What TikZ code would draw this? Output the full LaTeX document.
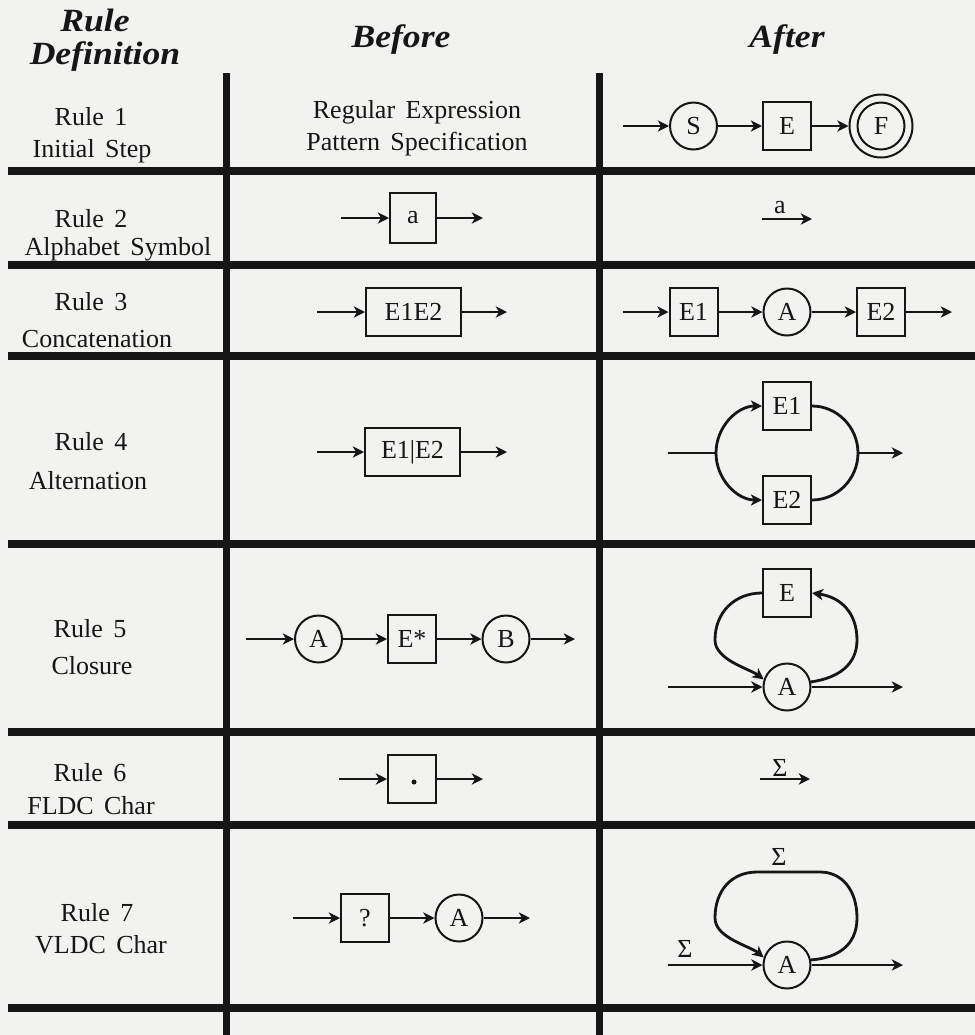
\documentclass[tikz,border=0pt]{standalone}
\usepackage{fontspec}
\setmainfont{Liberation Serif}[WordSpace=1.6]
\newfontfamily\headfont{Liberation Serif}[FakeStretch=1.1]
\usetikzlibrary{arrows.meta}
\definecolor{paper}{RGB}{242,242,241}
\definecolor{ink}{RGB}{22,22,22}

\begin{document}
\begin{tikzpicture}[x=0.5pt,y=-0.5pt,
  every node/.style={text=ink, font=\fontsize{13}{15}\selectfont},
  txt/.style={anchor=base, inner sep=0pt},
  head/.style={anchor=base, inner sep=0pt, font=\headfont\bfseries\itshape\fontsize{16.2}{18}\selectfont},
  state/.style={circle, draw=ink, line width=1pt, minimum size=23.5pt, inner sep=0pt},
  cell/.style={rectangle, draw=ink, line width=1pt, minimum width=24pt, minimum height=24pt, inner sep=0pt},
  widecell/.style={cell, minimum width=47.5pt},
  flow/.style={draw=ink, line width=1.4pt, -{Stealth[length=5.6pt,width=5.6pt,inset=1.6pt]}},
  plain/.style={draw=ink, line width=1.4pt},
  rulebar/.style={draw=ink, line width=4pt},
  colbar/.style={draw=ink, line width=3.5pt},
  edgelabel/.style={anchor=base, inner sep=0pt}
]
% page
\fill[paper] (0,0) rectangle (975,1035);
\useasboundingbox (0,0) rectangle (975,1035);

% table rules
\foreach \yy in {171,265,356,544,732,825,1008}
  \draw[rulebar] (8,\yy) -- (975,\yy);
\draw[colbar] (226,73) -- (226,1035);
\draw[colbar] (599,73) -- (599,1035);

% column heads
\node[head] (hRule) at (95,31) {Rule};
\node[head] (hDef) at (105,64) {Definition};
\node[head] (hBefore) at (401,47) {Before};
\node[head] (hAfter) at (787,47) {After};

% rule names
\node[txt] (l1a) at (91,125) {Rule 1};
\node[txt] (l1b) at (92,157) {Initial Step};
\node[txt] (l2a) at (91,227) {Rule 2};
\node[txt] (l2b) at (118,255) {Alphabet Symbol};
\node[txt] (l3a) at (91,310) {Rule 3};
\node[txt] (l3b) at (97,347) {Concatenation};
\node[txt] (l4a) at (91,450) {Rule 4};
\node[txt] (l4b) at (88,489) {Alternation};
\node[txt] (l5a) at (90,637) {Rule 5};
\node[txt] (l5b) at (92,674) {Closure};
\node[txt] (l6a) at (90,781) {Rule 6};
\node[txt] (l6b) at (91,814) {FLDC Char};
\node[txt] (l7a) at (97,921) {Rule 7};
\node[txt] (l7b) at (101,953) {VLDC Char};

% ---- Rule 1 ----
\node[txt] (r1b1) at (417,118) {Regular Expression};
\node[txt] (r1b2) at (417,150) {Pattern Specification};
\coordinate (r1in) at (623,126);
\node[state] (r1S) at (693.5,126) {S};
\node[cell] (r1E) at (787,126) {E};
\node[state] (r1F) at (881,126) {F};
\node[state, minimum size=31.5pt] (r1Fo) at (881,126) {};
\draw[flow] (r1in) -- (r1S);
\draw[flow] (r1S) -- (r1E);
\draw[flow] (r1E) -- (r1Fo);

% ---- Rule 2 ----
\coordinate (r2in) at (341,218);
\node[cell, minimum width=23pt, minimum height=25pt] (r2a) at (413,218) {a};
\coordinate (r2out) at (483,218);
\draw[flow] (r2in) -- (r2a);
\draw[flow] (r2a) -- (r2out);
\coordinate (r2s) at (762,219);
\coordinate (r2e) at (812,219);
\draw[flow] (r2s) -- node[edgelabel, pos=0.36, yshift=3pt] {a} (r2e);

% ---- Rule 3 ----
\coordinate (r3in) at (317,312);
\node[widecell] (r3b) at (413.5,312) {E1E2};
\coordinate (r3out) at (507,312);
\draw[flow] (r3in) -- (r3b);
\draw[flow] (r3b) -- (r3out);
\coordinate (r3ain) at (623,312);
\node[cell] (r3E1) at (693.5,312) {E1};
\node[state] (r3A) at (787,312) {A};
\node[cell] (r3E2) at (881,312) {E2};
\coordinate (r3aout) at (952,312);
\draw[flow] (r3ain) -- (r3E1);
\draw[flow] (r3E1) -- (r3A);
\draw[flow] (r3A) -- (r3E2);
\draw[flow] (r3E2) -- (r3aout);

% ---- Rule 4 ----
\coordinate (r4bin) at (317,452);
\node[widecell] (r4b) at (412.5,452) {E1|E2};
\coordinate (r4bout) at (507,452);
\draw[flow] (r4bin) -- (r4b);
\draw[flow] (r4b) -- (r4bout);
\coordinate (r4in) at (668,453);
\coordinate (r4j) at (716,453);
\coordinate (r4k) at (858,453);
\coordinate (r4out) at (903,453);
\node[cell] (r4E1) at (787,406) {E1};
\node[cell] (r4E2) at (787,500) {E2};
\draw[plain] (r4in) -- (r4j);
\draw[flow] (r4j) .. controls (716,427) and (737,406) .. (r4E1.west);
\draw[flow] (r4j) .. controls (716,479) and (737,500) .. (r4E2.west);
\draw[plain] (r4E1.east) .. controls (837,406) and (858,427) .. (r4k);
\draw[plain] (r4E2.east) .. controls (837,500) and (858,479) .. (r4k);
\draw[flow] (r4k) -- (r4out);

% ---- Rule 5 ----
\coordinate (r5bin) at (246,639);
\node[state] (r5bA) at (318.5,639) {A};
\node[cell] (r5bE) at (412,639) {E*};
\node[state] (r5bB) at (506,639) {B};
\coordinate (r5bout) at (575,639);
\draw[flow] (r5bin) -- (r5bA);
\draw[flow] (r5bA) -- (r5bE);
\draw[flow] (r5bE) -- (r5bB);
\draw[flow] (r5bB) -- (r5bout);
\node[cell] (r5E) at (787,593) {E};
\node[state] (r5A) at (787,687) {A};
\coordinate (r5in) at (668,687);
\coordinate (r5out) at (903,687);
\draw[flow] (r5in) -- (r5A);
\draw[flow] (r5A) -- (r5out);
\draw[flow] (r5E.west) .. controls (735,593) and (715,612) .. (715,640)
  .. controls (715,660) and (750,669) .. (r5A.162);
\draw[flow] (r5A.12) .. controls (838,678) and (857,665) .. (857,640)
  .. controls (857,612) and (840,597) .. (r5E.east);

% ---- Rule 6 ----
\coordinate (r6in) at (339,779);
\node[cell] (r6b) at (412,779) {};
\fill[ink] ([shift={(2,3)}]r6b.center) circle[radius=1.25pt];
\coordinate (r6out) at (483,779);
\draw[flow] (r6in) -- (r6b);
\draw[flow] (r6b) -- (r6out);
\coordinate (r6s) at (760,779);
\coordinate (r6e) at (810,779);
\draw[flow] (r6s) -- node[edgelabel, pos=0.4, yshift=1.5pt] {Σ} (r6e);

% ---- Rule 7 ----
\coordinate (r7bin) at (293,918);
\node[cell] (r7q) at (365,918) {?};
\node[state] (r7bA) at (459,918) {A};
\coordinate (r7bout) at (530,918);
\draw[flow] (r7bin) -- (r7q);
\draw[flow] (r7q) -- (r7bA);
\draw[flow] (r7bA) -- (r7bout);
\node[state] (r7A) at (787,965) {A};
\coordinate (r7in) at (668,965);
\coordinate (r7out) at (903,965);
\draw[flow] (r7in) -- node[edgelabel, pos=0.18, yshift=4pt] {Σ} (r7A);
\draw[flow] (r7A) -- (r7out);
\draw[flow] (r7A.12) .. controls (838,958) and (857,945) .. (857,918)
  .. controls (857,890) and (842,872) .. (820,872)
  -- node[edgelabel, pos=0.65, yshift=3.5pt] {Σ} (757,872)
  .. controls (732,872) and (715,890) .. (715,918)
  .. controls (715,938) and (750,946) .. (r7A.162);

\end{tikzpicture}
\end{document}
